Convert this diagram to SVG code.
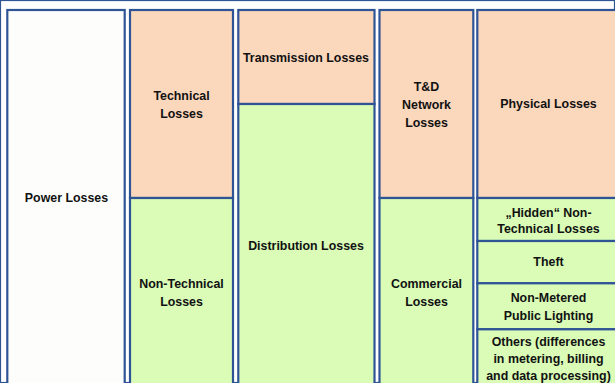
<svg xmlns="http://www.w3.org/2000/svg" width="615" height="383" viewBox="0 0 615 383">
<style>
rect{stroke:#2F5496;stroke-width:2.2}
.w{fill:#FDFEFC}
.p{fill:#FBD7BC}
.g{fill:#DAFCB7}
text{font-family:"Liberation Sans",Arial,sans-serif;font-weight:bold;font-size:12.4px;fill:#111;text-anchor:middle}
</style>
<rect x="0" y="0" width="615" height="383" fill="#fff" stroke="none"/>
<g id="power-losses">
<rect class="w" x="7.3" y="10" width="117.4" height="400"/>
<text x="66.5" y="202">Power Losses</text>
</g>
<g id="technical-losses">
<rect class="p" x="130" y="10" width="103" height="188"/>
<text x="181.5" y="100">Technical</text>
<text x="181.5" y="118">Losses</text>
</g>
<g id="non-technical-losses">
<rect class="g" x="130" y="198" width="103" height="210"/>
<text x="181.5" y="288">Non-Technical</text>
<text x="181.5" y="306">Losses</text>
</g>
<g id="transmission-losses">
<rect class="p" x="238.3" y="10" width="136.2" height="94"/>
<text x="306" y="61.5">Transmission Losses</text>
</g>
<g id="distribution-losses">
<rect class="g" x="238.3" y="104" width="136.2" height="304"/>
<text x="306" y="250">Distribution Losses</text>
</g>
<g id="td-network-losses">
<rect class="p" x="379.5" y="10" width="93.8" height="188"/>
<text x="426.5" y="91">T&amp;D</text>
<text x="426.5" y="109">Network</text>
<text x="426.5" y="127">Losses</text>
</g>
<g id="commercial-losses">
<rect class="g" x="379.5" y="198" width="93.8" height="210"/>
<text x="426.5" y="288">Commercial</text>
<text x="426.5" y="306">Losses</text>
</g>
<g id="physical-losses">
<rect class="p" x="477.3" y="10" width="143" height="188"/>
<text x="548.5" y="108">Physical Losses</text>
</g>
<g id="hidden-non-technical-losses">
<rect class="g" x="477.3" y="198" width="143" height="43"/>
<text x="548.5" y="217">„Hidden“ Non-</text>
<text x="548.5" y="233">Technical Losses</text>
</g>
<g id="theft">
<rect class="g" x="477.3" y="241" width="143" height="42.3"/>
<text x="548.5" y="266">Theft</text>
</g>
<g id="non-metered-public-lighting">
<rect class="g" x="477.3" y="283.3" width="143" height="46"/>
<text x="548.5" y="302">Non-Metered</text>
<text x="548.5" y="319.5">Public Lighting</text>
</g>
<g id="others">
<rect class="g" x="477.3" y="329.3" width="143" height="80"/>
<text x="548.5" y="346">Others (differences</text>
<text x="548.5" y="363">in metering, billing</text>
<text x="548.5" y="380">and data processing)</text>
</g>
</svg>
